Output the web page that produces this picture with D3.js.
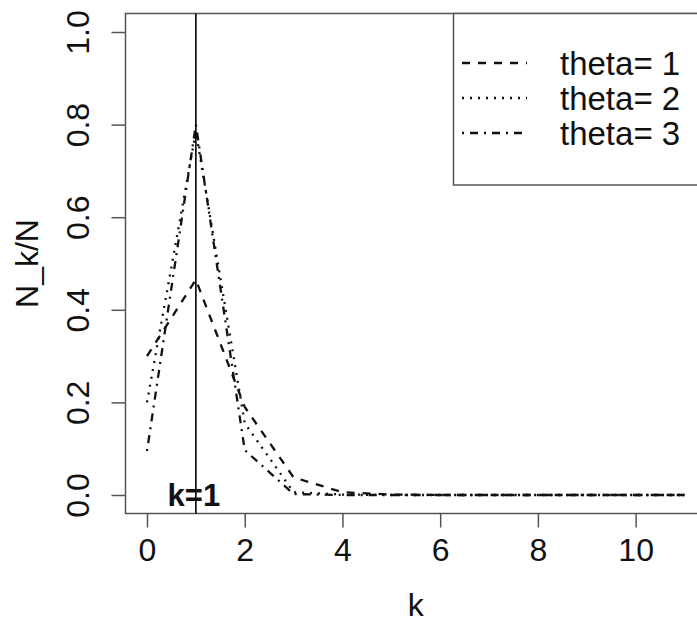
<!DOCTYPE html>
<html>
<head>
<meta charset="utf-8">
<script src="https://cdn.jsdelivr.net/npm/d3@7"></script>
<style>
  body { margin: 0; background: #fff; }
  svg { display: block; font-family: "Liberation Sans", Arial, sans-serif; }
</style>
</head>
<body>
<div></div>
<script>
// values
var ks = [0, 1, 2, 3, 4, 5, 6, 7, 8, 9, 10, 11];
var theta1 = [0.30, 0.465, 0.19, 0.038, 0.006, 0.001, 0, 0, 0, 0, 0, 0];
var theta2 = [0.20, 0.785, 0.155, 0.006, 0.001, 0, 0, 0, 0, 0, 0, 0];
var theta3 = [0.095, 0.80, 0.097, 0.002, 0, 0, 0, 0, 0, 0, 0, 0];
var seriesNames = ["theta= 1", "theta= 2", "theta= 3"];
var xTicks = [0, 2, 4, 6, 8, 10];
var yTicks = [0, 0.2, 0.4, 0.6, 0.8, 1.0];

var widthSvg = 697,
    heightSvg = 626;

var svg = d3.select("div").append("svg")
    .attr("width", widthSvg)
    .attr("height", heightSvg);

// R style: limits extended by 4%
var xScale = d3.scaleLinear()
    .domain([-0.44, 11.44])
    .range([125.5, 706]);

var yScale = d3.scaleLinear()
    .domain([-0.04, 1.04])
    .range([513.5, 13.5]);

var dashes = ["8,8", "2,6", "2,6,8,6"];
var series = [theta1, theta2, theta3].map(function (vals, i) {
    return {name: seriesNames[i], dash: dashes[i], values: vals.map(function (v, j) {
        return {k: ks[j], v: v};
    })};
});

// plot box
svg.append("rect")
    .attr("x", xScale.range()[0])
    .attr("y", yScale.range()[1])
    .attr("width", xScale.range()[1] - xScale.range()[0])
    .attr("height", yScale.range()[0] - yScale.range()[1])
    .attr("fill", "none")
    .attr("stroke", "#555")
    .attr("stroke-width", 1.5);

// x axis
var xAxis = svg.append("g")
    .attr("transform", "translate(0," + yScale.range()[0] + ")")
    .call(d3.axisBottom(xScale).tickValues(xTicks).tickSize(14).tickPadding(11)
        .tickFormat(d3.format("d")));
xAxis.select(".domain").remove();
xAxis.selectAll("line").attr("stroke", "#555").attr("stroke-width", 1.5);
xAxis.selectAll("text").attr("font-size", 32).attr("font-family", null).attr("fill", "#111");

// y axis, labels rotated like R
var yAxis = svg.append("g")
    .attr("transform", "translate(" + xScale.range()[0] + ",0)")
    .call(d3.axisLeft(yScale).tickValues(yTicks).tickSize(14).tickFormat(d3.format(".1f")));
yAxis.select(".domain").remove();
yAxis.selectAll("line").attr("stroke", "#555").attr("stroke-width", 1.5);
yAxis.selectAll("text")
    .attr("font-size", 32)
    .attr("font-family", null)
    .attr("fill", "#111")
    .attr("x", null)
    .attr("dy", null)
    .attr("text-anchor", "middle")
    .attr("transform", "translate(-37,0) rotate(-90)");

// axis titles
svg.append("text")
    .attr("x", (xScale.range()[0] + xScale.range()[1]) / 2)
    .attr("y", 616)
    .attr("text-anchor", "middle")
    .attr("font-size", 32)
    .attr("fill", "#111")
    .text("k");

svg.append("text")
    .attr("transform", "translate(38," + (yScale.range()[0] + yScale.range()[1]) / 2 + ") rotate(-90)")
    .attr("text-anchor", "middle")
    .attr("font-size", 32)
    .attr("fill", "#111")
    .text("N_k/N");

// lines
var line = d3.line()
    .x(function (d) { return xScale(d.k); })
    .y(function (d) { return yScale(d.v); });

svg.append("g")
    .selectAll("path")
    .data(series)
    .enter().append("path")
    .attr("d", function (d) { return line(d.values); })
    .attr("fill", "none")
    .attr("stroke", "#111")
    .attr("stroke-width", 2.3)
    .attr("stroke-dasharray", function (d) { return d.dash; });

// vertical marker at k=1
svg.append("line")
    .attr("x1", xScale(1)).attr("x2", xScale(1))
    .attr("y1", yScale.range()[1]).attr("y2", yScale.range()[0])
    .attr("stroke", "#000")
    .attr("stroke-width", 1.6);

svg.append("text")
    .attr("x", xScale(1) - 2)
    .attr("y", yScale(0))
    .attr("dy", "0.36em")
    .attr("text-anchor", "middle")
    .attr("font-size", 31)
    .attr("font-weight", "bold")
    .attr("fill", "#111")
    .text("k=1");

// legend (topright)
var legend = svg.append("g");
legend.append("rect")
    .attr("x", 453.5)
    .attr("y", yScale.range()[1])
    .attr("width", xScale.range()[1] - 453.5)
    .attr("height", 185 - yScale.range()[1])
    .attr("fill", "#fff")
    .attr("stroke", "#555")
    .attr("stroke-width", 1.5);

var items = legend.selectAll("g.item")
    .data(series)
    .enter().append("g")
    .attr("class", "item")
    .attr("transform", function (d, i) {
        return "translate(0," + (63 + i * 35) + ")";
    });

items.append("line")
    .attr("x1", 462).attr("x2", 527)
    .attr("stroke", "#111")
    .attr("stroke-width", 2.3)
    .attr("stroke-dasharray", function (d) { return d.dash; });

items.append("text")
    .attr("x", 560)
    .attr("dy", "0.36em")
    .attr("font-size", 33)
    .attr("fill", "#111")
    .text(function (d) { return d.name; });
</script>
</body>
</html>
